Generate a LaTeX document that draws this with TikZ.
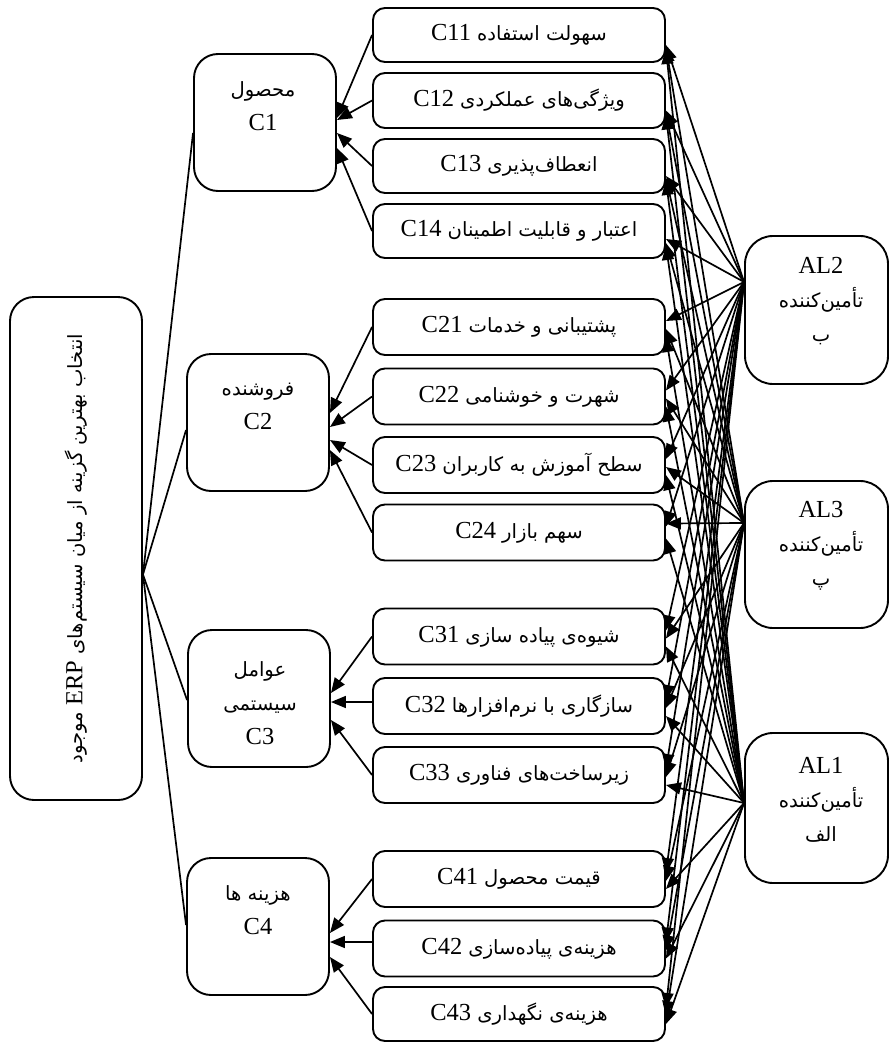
\documentclass[tikz,border=0pt]{standalone}
\usepackage{fontspec}
\setmainfont{Liberation Serif}
\newfontfamily\fa[Script=Arabic,Scale=0.8]{DejaVu Sans}
\TeXXeTstate=1
\usetikzlibrary{arrows.meta,calc}
\newcommand{\fatxt}[1]{{\fa\beginR #1\endR}}
\newcommand{\mixtxt}[2]{\beginR{\fa #1} \beginL #2\endL\endR}
\begin{document}
\begin{tikzpicture}[x=1pt,y=-1pt,
  every node/.style={font=\fontsize{24.5}{34}\selectfont},
  box/.style={draw, line width=1.9pt, rounded corners=12pt, inner sep=0pt},
  goalbox/.style={box, rounded corners=24pt, minimum width=132pt, minimum height=503pt},
  crit/.style={box, rounded corners=24pt, minimum width=142pt, minimum height=137pt},
  sub/.style={box, minimum width=292pt, minimum height=56pt},
  alt/.style={box, rounded corners=28pt, minimum width=143pt, minimum height=148pt},
  txt/.style={align=center, inner sep=0pt},
  con/.style={line width=1.7pt},
  arr/.style={con, -{Triangle[length=15pt,width=12pt]}}]
\useasboundingbox (0,0) rectangle (891,1044);

% goal
\node[goalbox] (G) at (76,548.5) {};
\node[txt, rotate=90] (Gt) at (76,548.5) {\beginR{\fa انتخاب بهترین گزینه از میان سیستم‌های} \beginL ERP\endL{} {\fa موجود}\endR};

% criteria
\node[crit] (C1) at (265,122.5) {};
\node[txt] (C1t) at (263,106.5) {\fatxt{محصول}\\C1};
\node[crit] (C2) at (258,422.5) {};
\node[txt] (C2t) at (258,406.5) {\fatxt{فروشنده}\\C2};
\node[crit] (C3) at (259,698.5) {};
\node[txt] (C3t) at (260,703) {\fatxt{عوامل}\\\fatxt{سیستمی}\\C3};
\node[crit] (C4) at (258,926.5) {};
\node[txt] (C4t) at (258,910) {\fatxt{هزینه ها}\\C4};

% sub-criteria
\node[sub, minimum height=54pt] (C11) at (519,35) {\mixtxt{سهولت استفاده}{C11}};
\node[sub, minimum height=55pt] (C12) at (519,100.5) {\mixtxt{ویژگی‌های عملکردی}{C12}};
\node[sub, minimum height=54pt] (C13) at (519,166) {\mixtxt{انعطاف‌پذیری}{C13}};
\node[sub, minimum height=54pt] (C14) at (519,231) {\mixtxt{اعتبار و قابلیت اطمینان}{C14}};
\node[sub] (C21) at (519,327) {\mixtxt{پشتیبانی و خدمات}{C21}};
\node[sub] (C22) at (519,396.5) {\mixtxt{شهرت و خوشنامی}{C22}};
\node[sub] (C23) at (519,465) {\mixtxt{سطح آموزش به کاربران}{C23}};
\node[sub] (C24) at (519,532.5) {\mixtxt{سهم بازار}{C24}};
\node[sub] (C31) at (519,636.5) {\mixtxt{شیوه‌ی پیاده سازی}{C31}};
\node[sub] (C32) at (519,706) {\mixtxt{سازگاری با نرم‌افزارها}{C32}};
\node[sub] (C33) at (519,775) {\mixtxt{زیرساخت‌های فناوری}{C33}};
\node[sub] (C41) at (519,879) {\mixtxt{قیمت محصول}{C41}};
\node[sub] (C42) at (519,948.5) {\mixtxt{هزینه‌ی پیاده‌سازی}{C42}};
\node[sub, minimum height=54pt] (C43) at (519,1014) {\mixtxt{هزینه‌ی نگهداری}{C43}};

% alternatives
\node[alt] (AL2) at (816.5,310) {};
\node[txt] (AL2t) at (821,301) {AL2\\\fatxt{تأمین‌کننده}\\\fatxt{ب}};
\node[alt, minimum height=147pt] (AL3) at (816.5,554.5) {};
\node[txt] (AL3t) at (821,546) {AL3\\\fatxt{تأمین‌کننده}\\\fatxt{پ}};
\node[alt, minimum height=150pt] (AL1) at (816.5,808) {};
\node[txt] (AL1t) at (821,800) {AL1\\\fatxt{تأمین‌کننده}\\\fatxt{الف}};

% goal to criteria
\coordinate (g0) at ($(G.east)+(0,26)$);
\draw[con] (g0) -- ($(C1.west)+(0,10.5)$);
\draw[con] (g0) -- ($(C2.west)+(0,7.5)$);
\draw[con] (g0) -- ($(C3.west)+(0,1.5)$);
\draw[con] (g0) -- ($(C4.west)+(0,-1.5)$);

% sub-criteria to criteria
\draw[arr] (C11.west) -- ($(C1.east)+(0,-4.5)$);
\draw[arr] (C12.west) -- ($(C1.east)+(0,-2.5)$);
\draw[arr] (C13.west) -- ($(C1.east)+(0,10.5)$);
\draw[arr] (C14.west) -- ($(C1.east)+(0,25.5)$);
\draw[arr] (C21.west) -- ($(C2.east)+(0,-9.5)$);
\draw[arr] (C22.west) -- ($(C2.east)+(0,4.5)$);
\draw[arr] (C23.west) -- ($(C2.east)+(0,17.5)$);
\draw[arr] (C24.west) -- ($(C2.east)+(0,27.5)$);
\draw[arr] (C31.west) -- ($(C3.east)+(0,-5.5)$);
\draw[arr] ($(C32.west)+(0,-4)$) -- ($(C3.east)+(0,3.5)$);
\draw[arr] (C33.west) -- ($(C3.east)+(0,21.5)$);
\draw[arr] (C41.west) -- ($(C4.east)+(0,6.5)$);
\draw[arr] ($(C42.west)+(0,-6.5)$) -- ($(C4.east)+(0,15.5)$);
\draw[arr] (C43.west) -- ($(C4.east)+(0,30.5)$);

% alternatives to sub-criteria
\coordinate (o2) at ($(AL2.west)+(0,-28)$);
\coordinate (o3) at ($(AL3.west)+(0,-31.5)$);
\coordinate (o1) at ($(AL1.west)+(0,-5)$);
\foreach \s/\a/\b/\c in {C11/10/12/14, C12/10/12/14, C13/10/12/14, C14/8/12/14,
  C21/-6/2/10, C22/-6/2/10, C23/-6/2/10, C24/-6/-9/6,
  C31/-6/2/10, C32/-6/2/10, C33/-6/2/10,
  C41/-6/2/10, C42/-6/2/10, C43/-6/2/10} {
  \draw[arr] (o2) -- ($(\s.east)+(0,\a)$);
  \draw[arr] (o3) -- ($(\s.east)+(0,\b)$);
  \draw[arr] (o1) -- ($(\s.east)+(0,\c)$);
}
\end{tikzpicture}
\end{document}
